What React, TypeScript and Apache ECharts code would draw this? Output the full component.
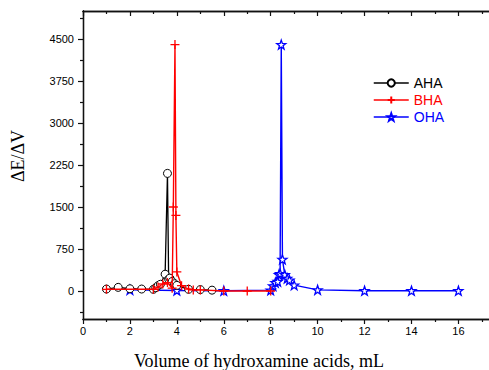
import React, { useEffect, useRef } from "react";
import * as echarts from "echarts";

const ahaX = [1.0, 1.5, 2.0, 2.5, 3.0, 3.1, 3.2, 3.3, 3.5, 3.6, 3.65, 3.7, 3.8, 3.9, 4.0, 4.5, 5.0, 5.5];
const ahaY = [35, 65, 40, 35, 30, 60, 95, 120, 300, 2100, 210, 230, 170, 130, 100, 30, 25, 15];

const bhaX = [1.0, 3.0, 3.2, 3.4, 3.6, 3.8, 3.85, 3.92, 3.96, 4.0, 4.2, 4.5, 4.7, 5.0, 6.0, 7.0, 8.0];
const bhaY = [30, 30, 70, 125, 150, 50, 1500, 4400, 1350, 340, 95, 35, 20, 20, 0, 0, 0];

const ohaX = [2, 4, 6, 8.0, 8.1, 8.2, 8.3, 8.35, 8.4, 8.45, 8.5, 8.6, 8.7, 8.8, 9.0, 10, 12, 14, 16];
const ohaY = [20, 10, 5, 15, 90, 150, 170, 290, 310, 4400, 565, 290, 225, 195, 105, 20, 5, 5, 5];

const xMajorTicks = [0, 2, 4, 6, 8, 10, 12, 14, 16];
const xMinorTicks = [1, 3, 5, 7, 9, 11, 13, 15, 17];
const yMajorTicks = [0, 750, 1500, 2250, 3000, 3750, 4500];
const yMinorTicks = [-375, 375, 1125, 1875, 2625, 3375, 4125, 4875];

const xName = "Volume of hydroxamine acids, mL";
const yName = "ΔE/ΔV";

const STAR = "path://M10,0L12.35,6.76L19.51,6.91L13.8,11.24L15.88,18.09L10,14L4.12,18.09L6.2,11.24L0.49,6.91L7.65,6.76Z";
const PLUS = "path://M0,5L10,5M5,0L5,10";

const zip = (xs: number[], ys: number[]) => xs.map((x, i) => [x, ys[i]]);

export default function App() {
  const ref = useRef<HTMLDivElement>(null);
  useEffect(() => {
    if (!ref.current) return;
    const chart = echarts.init(ref.current, null, { renderer: "svg" });
    const axisColor = "#111";
    const labelFont = { fontFamily: "Liberation Sans", fontSize: 11, color: "#000" };
    const baseX = {
      type: "value" as const,
      min: 0,
      max: 17.5,
      splitLine: { show: false },
      axisLine: { show: true, onZero: false, lineStyle: { color: axisColor, width: 1.3 } },
    };
    const baseY = {
      type: "value" as const,
      min: -500,
      max: 5000,
      splitLine: { show: false },
      axisLine: { show: true, onZero: false, lineStyle: { color: axisColor, width: 1.3 } },
    };
    chart.setOption({
      animation: false,
      backgroundColor: "#fff",
      grid: { left: 83, top: 11, width: 410.6, height: 308 },
      legend: {
        orient: "vertical",
        left: 373,
        top: 76,
        padding: 0,
        itemWidth: 35,
        itemHeight: 9,
        itemGap: 3,
        lineStyle: { width: 1.5 },
        textStyle: { fontFamily: "Liberation Sans", fontSize: 14 },
        data: [
          { name: "AHA", textStyle: { color: "#000" } },
          { name: "BHA", textStyle: { color: "#ff0000" } },
          { name: "OHA", textStyle: { color: "#0000ff" } },
        ],
      },
      xAxis: [
        {
          ...baseX,
          position: "bottom",
          axisTick: { show: true, inside: false, length: 5, customValues: xMajorTicks, lineStyle: { color: axisColor, width: 1.2 } },
          axisLabel: { show: true, customValues: xMajorTicks, margin: 6, ...labelFont },
        },
        {
          ...baseX,
          position: "bottom",
          axisTick: { show: true, inside: false, length: 3, customValues: xMinorTicks, lineStyle: { color: axisColor, width: 1.2 } },
          axisLabel: { show: false },
        },
        {
          ...baseX,
          position: "top",
          axisTick: { show: true, inside: true, length: 5, customValues: xMajorTicks, lineStyle: { color: axisColor, width: 1.2 } },
          axisLabel: { show: false },
        },
        {
          ...baseX,
          position: "top",
          axisTick: { show: true, inside: true, length: 3, customValues: xMinorTicks, lineStyle: { color: axisColor, width: 1.2 } },
          axisLabel: { show: false },
        },
      ],
      yAxis: [
        {
          ...baseY,
          position: "left",
          axisTick: { show: true, inside: false, length: 5, customValues: yMajorTicks, lineStyle: { color: axisColor, width: 1.2 } },
          axisLabel: { show: true, customValues: yMajorTicks, margin: 9, formatter: (v: number) => String(v), ...labelFont },
        },
        {
          ...baseY,
          position: "left",
          axisTick: { show: true, inside: false, length: 3, customValues: yMinorTicks, lineStyle: { color: axisColor, width: 1.2 } },
          axisLabel: { show: false },
        },
      ],
      graphic: [
        {
          type: "text",
          x: 259,
          y: 361,
          style: { text: xName, font: '18px "Liberation Serif"', fill: "#000", textAlign: "center", textVerticalAlign: "middle" },
        },
        {
          type: "text",
          x: 18,
          y: 156,
          rotation: Math.PI / 2,
          style: { text: yName, font: '18px "Liberation Serif"', fill: "#000", textAlign: "center", textVerticalAlign: "middle" },
        },
      ],
      series: [
        {
          name: "OHA",
          type: "line",
          z: 1,
          data: zip(ohaX, ohaY),
          symbol: STAR,
          symbolSize: 9,
          lineStyle: { color: "#0000ff", width: 1.4 },
          itemStyle: { color: "#fff", borderColor: "#0000ff", borderWidth: 1.3 },
        },
        {
          name: "AHA",
          type: "line",
          z: 2,
          data: zip(ahaX, ahaY),
          symbol: "circle",
          symbolSize: 8,
          lineStyle: { color: "#000", width: 1.3 },
          itemStyle: { color: "#fff", borderColor: "#000", borderWidth: 1 },
        },
        {
          name: "BHA",
          type: "line",
          z: 3,
          data: zip(bhaX, bhaY),
          symbol: PLUS,
          symbolSize: 9,
          lineStyle: { color: "#ff0000", width: 1.4 },
          itemStyle: { color: "#ff0000", borderColor: "#ff0000", borderWidth: 1.3 },
        },
      ],
    });
    return () => chart.dispose();
  }, []);
  return (
    <div style={{ position: "absolute", left: 0, top: 0, width: 489, height: 370, overflow: "hidden" }}>
      <div ref={ref} style={{ position: "absolute", left: 0, top: 0, width: 500, height: 370 }} />
    </div>
  );
}
